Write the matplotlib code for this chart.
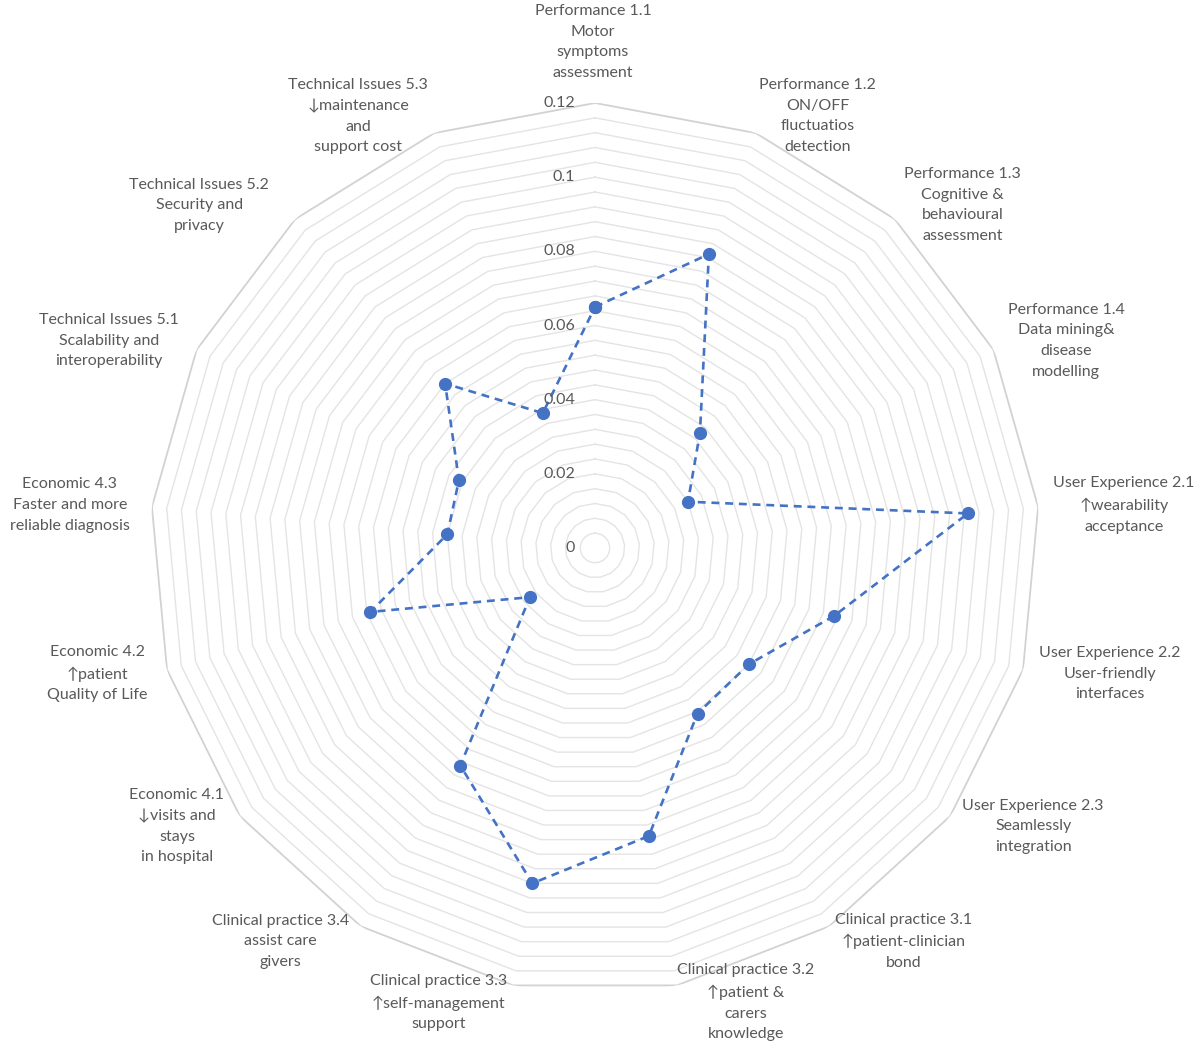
import numpy as np
import matplotlib
matplotlib.use("Agg")
import matplotlib.pyplot as plt

plt.rcParams['font.family'] = ['Lato', 'DejaVu Sans']

categories = [
    "Performance 1.1\nMotor\nsymptoms\nassessment",
    "Performance 1.2\nON/OFF\nfluctuatios\ndetection",
    "Performance 1.3\nCognitive &\nbehavioural\nassessment",
    "Performance 1.4\nData mining&\ndisease\nmodelling",
    "User Experience 2.1\n↑wearability\nacceptance",
    "User Experience 2.2\nUser-friendly\ninterfaces",
    "User Experience 2.3\nSeamlessly\nintegration",
    "Clinical practice 3.1\n↑patient-clinician\nbond",
    "Clinical practice 3.2\n↑patient &\ncarers\nknowledge",
    "Clinical practice 3.3\n↑self-management\nsupport",
    "Clinical practice 3.4\nassist care\ngivers",
    "Economic 4.1\n↓visits and\nstays\nin hospital",
    "Economic 4.2\n↑patient\nQuality of Life",
    "Economic 4.3\nFaster and more\nreliable diagnosis",
    "Technical Issues 5.1\nScalability and\ninteroperability",
    "Technical Issues 5.2\nSecurity and\nprivacy",
    "Technical Issues 5.3\n↓maintenance\nand\nsupport cost",
]
values = [0.065, 0.085, 0.042, 0.028, 0.101, 0.067, 0.052, 0.0525, 0.079,
          0.092, 0.069, 0.022, 0.063, 0.040, 0.041, 0.060, 0.039]
tick_values = [0, 0.02, 0.04, 0.06, 0.08, 0.1, 0.12]
tick_labels = ["0", "0.02", "0.04", "0.06", "0.08", "0.1", "0.12"]

# label offsets from the outer vertex, in pixels (layout only)
label_offset = [(-2, 61), (62, 17), (68, 14), (73, 9), (86, 2), (87, -4),
                (83, -10), (74, -15), (69, -17), (-75, -17), (-80, -15),
                (-63, -10), (-70, -4), (-82, 2), (-88, 9), (-96, 14), (-76, 17)]

n = len(categories)
theta = np.linspace(0, 2 * np.pi, n, endpoint=False)
theta_c = np.append(theta, theta[0])

fig = plt.figure(figsize=(12, 10.5), dpi=100)
ax = fig.add_axes([0.1250, 0.0543, 0.7417, 0.8476], projection='polar')
ax.set_theta_zero_location('N')
ax.set_theta_direction(-1)
ax.set_ylim(0, 0.12)
ax.grid(False)
ax.spines['polar'].set_visible(False)
ax.set_xticks([])
ax.set_yticks([])
ax.patch.set_alpha(0)

# polygon gridlines every 0.004
rings = np.arange(0.004, 0.1201, 0.004)
for r in rings:
    last = abs(r - 0.12) < 1e-9
    ax.plot(theta_c, [r] * (n + 1), color='#d2d2d2' if last else '#e4e4e4',
            lw=1.3 if last else 1.0, zorder=1)

# series
ax.plot(theta_c, values + [values[0]], color='#4472C4', lw=1.9, ls=(0, (3, 2.2)),
        marker='o', markersize=8.5, markerfacecolor='#4472C4',
        markeredgecolor='#4472C4', zorder=3)

# radial tick labels
for v, t in zip(tick_values, tick_labels):
    ax.annotate(t, xy=(0, v), xytext=(-20, 0), textcoords='offset pixels',
                ha='right', va='center', fontsize=11.5, color='#595959')

# category labels
for ang, lab, off in zip(theta, categories, label_offset):
    ax.annotate(lab, xy=(ang, 0.12), xytext=off, textcoords='offset pixels',
                ha='center', va='center', fontsize=11.5, color='#595959',
                linespacing=1.6, annotation_clip=False)

fig.savefig("out.png", dpi=100, facecolor='white')
